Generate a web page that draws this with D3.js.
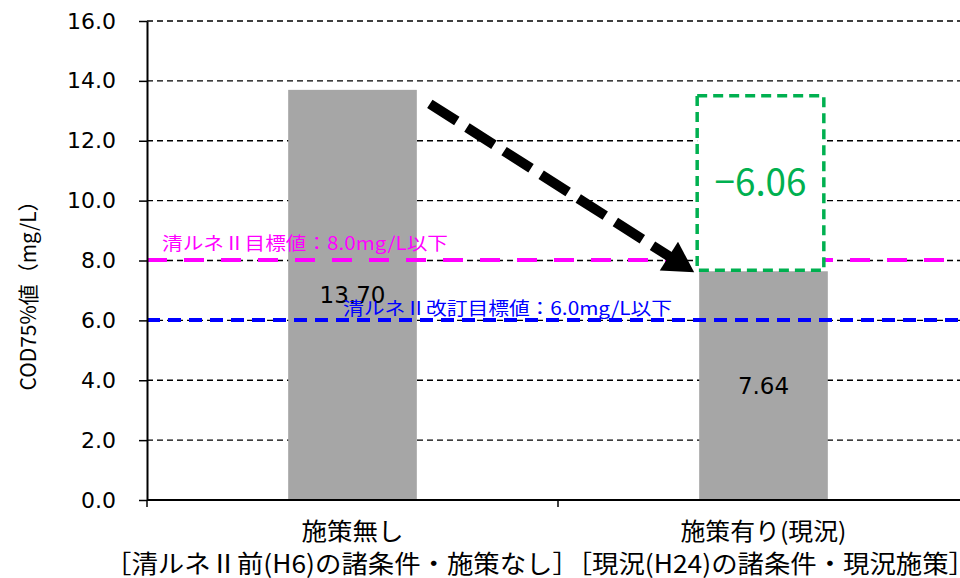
<!DOCTYPE html>
<html>
<head>
<meta charset="utf-8">
<script src="https://cdn.jsdelivr.net/npm/d3@7"></script>
<style>
  body { margin: 0; background: #fff; }
  svg { display: block; }
</style>
</head>
<body>
<div id="chart"></div>
<script>
// ---- data ----
const categories = ["施策無し", "施策有り(現況)"];
const values = [13.70, 7.64];
const valueLabels = ["13.70", "7.64"];
const yTicks = [0, 2, 4, 6, 8, 10, 12, 14, 16];
const targetValues = [8.0, 6.0];
const targetLabels = ["清ルネⅡ目標値：8.0mg/L以下", "清ルネⅡ改訂目標値：6.0mg/L以下"];
const diffLabel = "−6.06";
const subCaption = "［清ルネⅡ前(H6)の諸条件・施策なし］［現況(H24)の諸条件・現況施策］";

const width = 960, height = 578;
const margin = {top: 21, right: -9, bottom: 78, left: 147};

const svg = d3.select("#chart").append("svg")
    .attr("width", width)
    .attr("height", height);

const x = d3.scaleBand()
    .domain(categories)
    .range([margin.left, width - margin.right])
    .padding(0);

const y = d3.scaleLinear()
    .domain([0, 16])
    .range([height - margin.bottom, margin.top]);

const barW = x.bandwidth() * 0.313;
const jpFont = "'Noto Sans CJK JP', sans-serif";
const numFont = "'DejaVu Sans', sans-serif";

// grid lines
svg.append("g")
    .selectAll("line")
    .data(yTicks.filter(d => d > 0))
    .enter().append("line")
    .attr("x1", margin.left)
    .attr("x2", width)
    .attr("y1", d => y(d))
    .attr("y2", d => y(d))
    .attr("stroke", "#000")
    .attr("stroke-width", 1.3)
    .attr("stroke-dasharray", "6,4");

// bars
svg.append("g")
    .selectAll("rect")
    .data(values)
    .enter().append("rect")
    .attr("x", (d, i) => x(categories[i]) + x.bandwidth() / 2 - barW / 2)
    .attr("y", d => y(d))
    .attr("width", barW)
    .attr("height", d => y(0) - y(d))
    .attr("fill", "#a6a6a6");

// target lines
const targetStyles = [
    {color: "#ff00ff", dash: "20,17", labelX: 162, labelW: 286, dy: -11},
    {color: "#0000ff", dash: "13,8", labelX: 343, labelW: 329, dy: -5}
];

svg.append("g")
    .selectAll("line")
    .data(targetValues)
    .enter().append("line")
    .attr("x1", margin.left)
    .attr("x2", width)
    .attr("y1", d => y(d) - 0.5)
    .attr("y2", d => y(d) - 0.5)
    .attr("stroke", (d, i) => targetStyles[i].color)
    .attr("stroke-width", 4)
    .attr("stroke-dasharray", (d, i) => targetStyles[i].dash);

// value labels
svg.append("g")
    .selectAll("text")
    .data(values)
    .enter().append("text")
    .attr("x", (d, i) => x(categories[i]) + x.bandwidth() / 2)
    .attr("y", d => y(d / 2) + 8)
    .attr("text-anchor", "middle")
    .style("font-family", numFont)
    .style("font-size", "23px")
    .attr("fill", "#000")
    .text((d, i) => valueLabels[i]);

// target labels
svg.append("g")
    .selectAll("text")
    .data(targetValues)
    .enter().append("text")
    .attr("x", (d, i) => targetStyles[i].labelX)
    .attr("y", (d, i) => y(d) + targetStyles[i].dy)
    .style("font-family", jpFont)
    .style("font-size", "18px")
    .attr("fill", (d, i) => targetStyles[i].color)
    .attr("textLength", (d, i) => targetStyles[i].labelW)
    .attr("lengthAdjust", "spacingAndGlyphs")
    .text((d, i) => targetLabels[i]);

// y axis
const yAxis = svg.append("g")
    .attr("transform", `translate(${margin.left},0)`)
    .call(d3.axisLeft(y).tickValues(yTicks).tickFormat(d3.format(".1f")).tickSize(8).tickSizeOuter(0));
yAxis.select(".domain").attr("stroke", "#000").attr("stroke-width", 2);
yAxis.selectAll(".tick line").attr("stroke", "#000").attr("stroke-width", 1.5);
yAxis.selectAll(".tick text")
    .attr("x", -31)
    .style("font-family", numFont)
    .style("font-size", "22px")
    .attr("fill", "#000");

// x axis
svg.append("line")
    .attr("x1", margin.left)
    .attr("x2", width)
    .attr("y1", y(0))
    .attr("y2", y(0))
    .attr("stroke", "#000")
    .attr("stroke-width", 2);

svg.append("g")
    .selectAll("line")
    .data(categories.map(c => x(c)).concat([x(categories[1]) + x.bandwidth()]))
    .enter().append("line")
    .attr("x1", d => d)
    .attr("x2", d => d)
    .attr("y1", y(0))
    .attr("y2", y(0) + 7)
    .attr("stroke", "#000")
    .attr("stroke-width", 1.5);

svg.append("g")
    .selectAll("text")
    .data(categories)
    .enter().append("text")
    .attr("x", d => x(d) + x.bandwidth() / 2)
    .attr("y", y(0) + 40)
    .attr("text-anchor", "middle")
    .style("font-family", jpFont)
    .style("font-size", "24px")
    .attr("fill", "#000")
    .attr("textLength", (d, i) => i === 0 ? 102 : 166)
    .attr("lengthAdjust", "spacingAndGlyphs")
    .text(d => d);

svg.append("text")
    .attr("x", 105)
    .attr("y", 573)
    .style("font-family", jpFont)
    .style("font-size", "25px")
    .attr("fill", "#000")
    .attr("textLength", 870)
    .attr("lengthAdjust", "spacingAndGlyphs")
    .text(subCaption);

// y axis title
svg.append("text")
    .attr("transform", `translate(36, ${y(7.0)}) rotate(-90)`)
    .attr("text-anchor", "middle")
    .style("font-family", jpFont)
    .style("font-size", "21px")
    .attr("fill", "#000")
    .attr("textLength", 200)
    .attr("lengthAdjust", "spacingAndGlyphs")
    .text("COD75%値（mg/L）");

// difference box
const boxX0 = x(categories[1]) + x.bandwidth() / 2 - barW / 2 - 2;
const boxX1 = boxX0 + barW - 2;
const boxY0 = y(13.5);
const boxY1 = y(values[1]) - 1;

svg.append("rect")
    .attr("x", boxX0)
    .attr("y", boxY0)
    .attr("width", boxX1 - boxX0)
    .attr("height", boxY1 - boxY0)
    .attr("fill", "#fff")
    .attr("stroke", "#00b050")
    .attr("stroke-width", 3.5)
    .attr("stroke-dasharray", "10,6");

svg.append("text")
    .attr("x", (boxX0 + boxX1) / 2)
    .attr("y", (boxY0 + boxY1) / 2 + 13)
    .attr("text-anchor", "middle")
    .style("font-family", jpFont)
    .style("font-size", "38px")
    .attr("fill", "#00b050")
    .attr("textLength", 92)
    .attr("lengthAdjust", "spacingAndGlyphs")
    .text(diffLabel);

// arrow
const ax0 = x(categories[0]) + x.bandwidth() / 2 + barW / 2 + 13;
const ay0 = y(values[0]) + 14;
const ax1 = boxX0 - 3;
const ay1 = y(values[1]) + 1;
const ang = Math.atan2(ay1 - ay0, ax1 - ax0);
const headLen = 30, headW = 17;
const bx = ax1 - headLen * Math.cos(ang), by = ay1 - headLen * Math.sin(ang);

svg.append("line")
    .attr("x1", ax0)
    .attr("y1", ay0)
    .attr("x2", bx + 4 * Math.cos(ang))
    .attr("y2", by + 4 * Math.sin(ang))
    .attr("stroke", "#000")
    .attr("stroke-width", 10)
    .attr("stroke-dasharray", "32,12");

svg.append("path")
    .attr("d", d3.line()([
        [ax1, ay1],
        [bx + headW * Math.sin(ang), by - headW * Math.cos(ang)],
        [bx - headW * Math.sin(ang), by + headW * Math.cos(ang)]
    ]) + "Z")
    .attr("fill", "#000");
</script>
</body>
</html>
